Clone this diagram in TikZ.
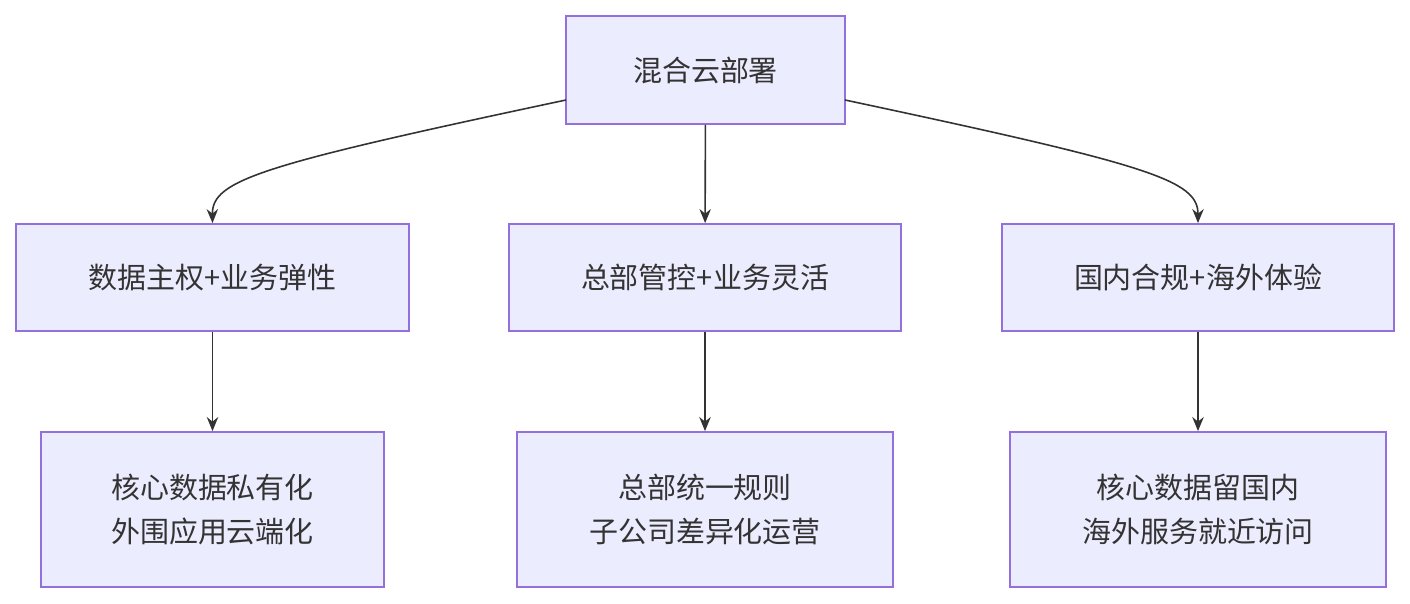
\documentclass[tikz,border=0pt]{standalone}
\usepackage{fontspec}
\setmainfont{Noto Sans CJK SC}
\usetikzlibrary{arrows.meta}
\definecolor{boxfill}{HTML}{ECECFF}
\definecolor{boxline}{HTML}{9370DB}
\definecolor{linkcol}{HTML}{333333}
\begin{document}
\begin{tikzpicture}[x=0.02cm,y=-0.02cm,
	box/.style={draw=boxline,fill=boxfill,line width=1pt,align=center,inner sep=0pt,
		font=\fontsize{16.5}{25}\selectfont,text=linkcol},
	link/.style={draw=linkcol,line width=0.9pt,-{Stealth[length=8pt,width=6.5pt]}}]
	\useasboundingbox (0,0) rectangle (1410,604);
	
	\node[box,minimum width=279*0.02cm,minimum height=108*0.02cm] (top) at (705.5,70) {混合云部署};
	
	\node[box,minimum width=393*0.02cm,minimum height=107*0.02cm] (sov) at (212.5,277.5) {数据主权+业务弹性};
	\node[box,minimum width=392*0.02cm,minimum height=107*0.02cm] (hq) at (705,277.5) {总部管控+业务灵活};
	\node[box,minimum width=392*0.02cm,minimum height=107*0.02cm] (cn) at (1198,277.5) {国内合规+海外体验};
	
	\node[box,minimum width=343*0.02cm,minimum height=155*0.02cm] (core) at (212.5,509.5) {核心数据私有化\\外围应用云端化};
	\node[box,minimum width=376*0.02cm,minimum height=155*0.02cm] (rule) at (705,509.5) {总部统一规则\\子公司差异化运营};
	\node[box,minimum width=376*0.02cm,minimum height=155*0.02cm] (keep) at (1198,509.5) {核心数据留国内\\海外服务就近访问};
	
	\coordinate (tl) at (566,100);
	\coordinate (tr) at (845,100);
	
	\path[link] (tl) .. controls (260,165) and (212,180) .. (sov.north);
	\path[link] (top) -- (hq);
	\path[link] (tr) .. controls (1150,165) and (1198,180) .. (cn.north);
	\path[link] (sov) -- (core);
	\path[link] (hq) -- (rule);
	\path[link] (cn) -- (keep);
	
\end{tikzpicture}
\end{document}
